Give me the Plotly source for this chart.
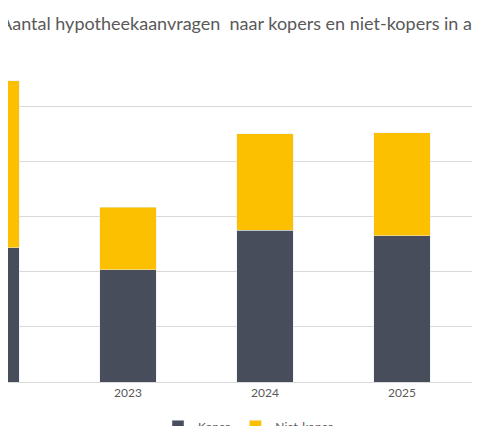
import plotly.graph_objects as go

## 데이터
jaren = ["2022", "2023", "2024", "2025"]
koper = [12180, 10180, 13800, 13270]
niet_koper = [15180, 5720, 8750, 9370]

fig = go.Figure()
fig.add_trace(go.Bar(x=jaren, y=koper, name="Koper", marker_color="#474d5a", width=0.41))
fig.add_trace(go.Bar(x=jaren, y=niet_koper, name="Niet-koper", marker_color="#fcc000", width=0.41))

fig.update_layout(
    barmode="stack",
    width=480, height=426,
    margin=dict(l=0, r=0, t=43, b=52, autoexpand=False),
    paper_bgcolor="white", plot_bgcolor="white",
    font=dict(family="Lato", color="#595959", size=12),
    showlegend=True,
    legend=dict(orientation="h", x=0.5, xanchor="center", y=-0.09, yanchor="top",
                traceorder="normal", font=dict(size=12), itemwidth=30),
    annotations=[dict(text="Aantal hypotheekaanvragen  naar kopers en niet-kopers in april",
                      x=0, xref="paper", xanchor="left", xshift=-10,
                      y=1.0, yref="paper", yanchor="middle", yshift=28, showarrow=False,
                      font=dict(size=18, color="#595959"))],
)
fig.update_xaxes(type="category", range=[0.124, 3.628], showgrid=False,
                 showline=True, linecolor="#d9d9d9", ticks="")
fig.update_yaxes(range=[0, 30080], dtick=5000, showgrid=True, gridcolor="#d9d9d9",
                 showticklabels=False, zeroline=False)

fig.write_html("out.html")
